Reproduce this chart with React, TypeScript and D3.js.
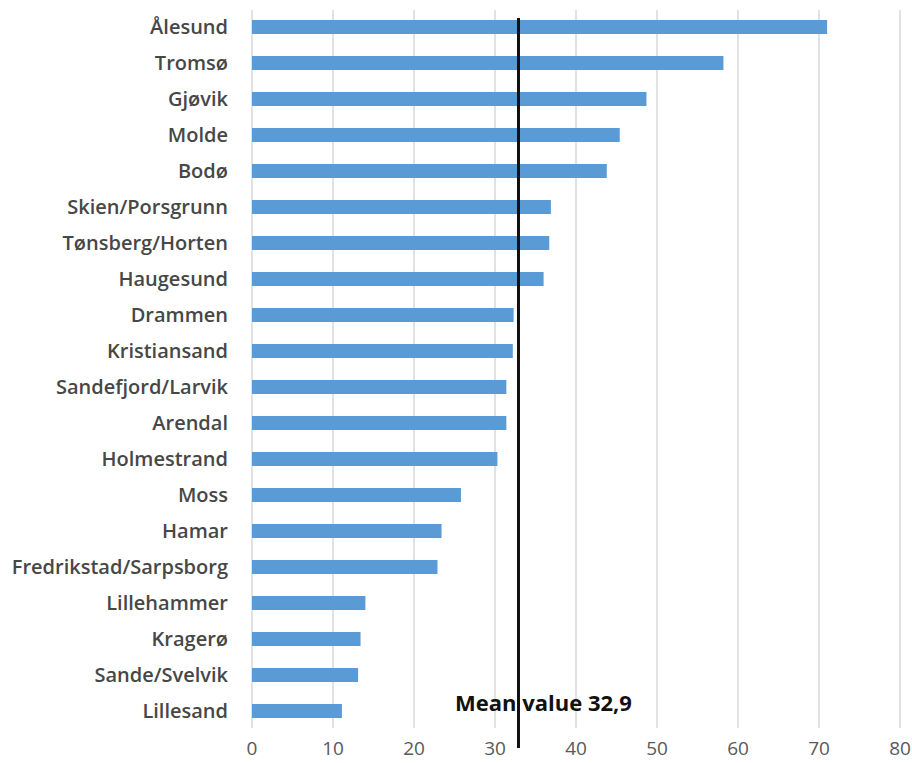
import React from "react";
import * as d3 from "d3";

const cities = [
  "Ålesund", "Tromsø", "Gjøvik", "Molde", "Bodø", "Skien/Porsgrunn",
  "Tønsberg/Horten", "Haugesund", "Drammen", "Kristiansand",
  "Sandefjord/Larvik", "Arendal", "Holmestrand", "Moss", "Hamar",
  "Fredrikstad/Sarpsborg", "Lillehammer", "Kragerø", "Sande/Svelvik", "Lillesand",
];
const values = [
  71.0, 58.2, 48.7, 45.4, 43.8, 36.9, 36.7, 36.0, 32.3, 32.2,
  31.4, 31.4, 30.3, 25.8, 23.4, 22.9, 14.0, 13.4, 13.1, 11.1,
];
const xTicks = [0, 10, 20, 30, 40, 50, 60, 70, 80];
const meanValue = 32.9;
const meanLabel = "Mean value 32,9";

const W = 912;
const H = 763;
const FONT = "'Open Sans', sans-serif";

export default function App() {
  const x = d3.scaleLinear().domain([0, 80]).range([252, 900]);
  const y = d3
    .scaleBand<string>()
    .domain(cities)
    .range([9, 729])
    .paddingInner(0.61)
    .paddingOuter(0.305);
  const gridTop = 10;
  const gridBottom = 728;

  return (
    <svg
      width={W}
      height={H}
      style={{ position: "absolute", left: 0, top: 0, background: "#fff" }}
    >
      {/* vertical gridlines */}
      {xTicks.map((t) => (
        <line
          key={"g" + t}
          x1={x(t)}
          x2={x(t)}
          y1={gridTop}
          y2={gridBottom}
          stroke="#d9d9dc"
          strokeWidth={1.5}
        />
      ))}
      {/* bars */}
      {cities.map((c, i) => (
        <rect
          key={c}
          x={x(0)}
          y={y(c)!}
          width={x(values[i]) - x(0)}
          height={y.bandwidth()}
          fill="#5b9bd5"
        />
      ))}
      {/* category labels */}
      {cities.map((c) => (
        <text
          key={"l" + c}
          x={228}
          y={y(c)! + y.bandwidth() / 2}
          dy="0.35em"
          textAnchor="end"
          fontFamily={FONT}
          fontSize={20}
          fontWeight={600}
          fill="#474747"
        >
          {c}
        </text>
      ))}
      {/* x tick labels */}
      {xTicks.map((t) => (
        <text
          key={"t" + t}
          x={x(t)}
          y={748}
          dy="0.35em"
          textAnchor="middle"
          fontFamily={FONT}
          fontSize={19}
          fill="#595959"
        >
          {t}
        </text>
      ))}
      {/* mean line */}
      <line
        x1={x(meanValue)}
        x2={x(meanValue)}
        y1={18}
        y2={748}
        stroke="#111"
        strokeWidth={3}
      />
      <text
        x={455}
        y={703}
        dy="0.35em"
        fontFamily={FONT}
        fontSize={22}
        fontWeight={700}
        fill="#111"
      >
        {meanLabel}
      </text>
    </svg>
  );
}
